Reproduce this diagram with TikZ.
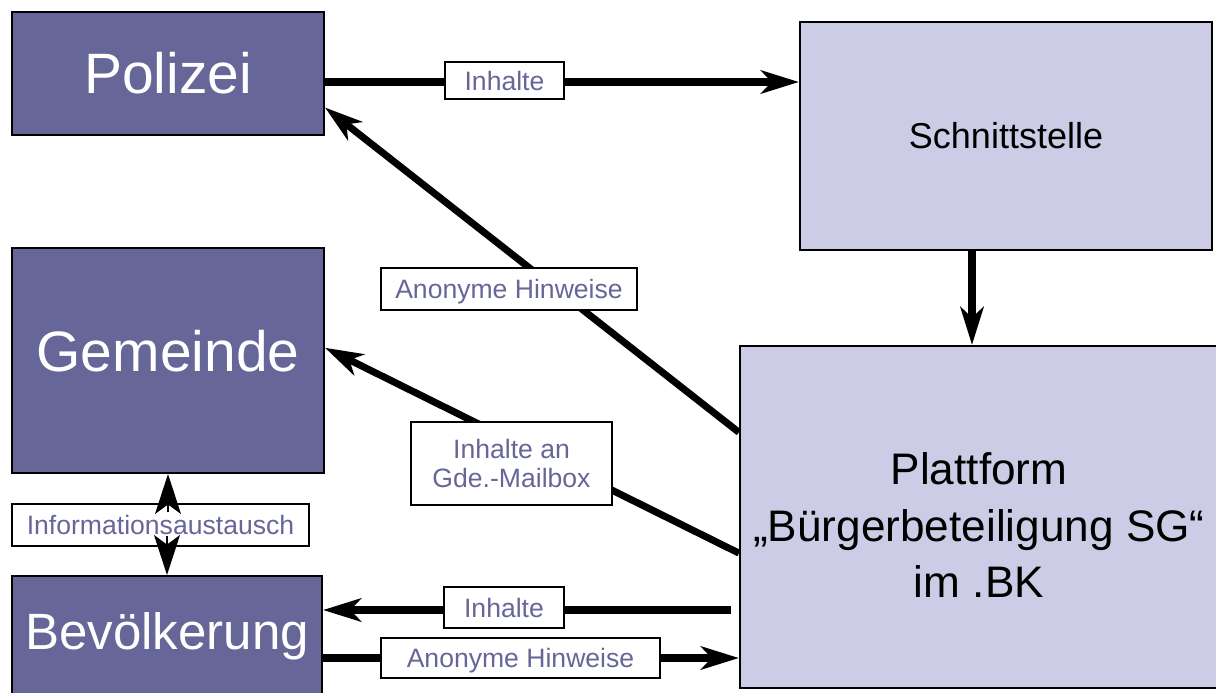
\documentclass[tikz,border=0pt]{standalone}
\usepackage{fontspec}
\setmainfont{Liberation Sans}
\usetikzlibrary{arrows.meta, calc}
\definecolor{darkbox}{RGB}{102,102,153}
\definecolor{lightbox}{RGB}{204,204,230}

\begin{document}
\begin{tikzpicture}[x=0.025cm, y=-0.025cm,
    bigbox/.style={draw=black, line width=1.4pt, rectangle, inner sep=0pt},
    darkfill/.style={bigbox, fill=darkbox, text=white},
    lightfill/.style={bigbox, fill=lightbox, text=black},
    tagbox/.style={draw=black, line width=1.4pt, fill=white, text=darkbox, inner sep=0pt,
      text depth=0pt, align=center, font=\fontsize{18.9pt}{20.6pt}\selectfont},
    conn/.style={line width=5pt, -{Stealth[length=0.95cm, width=0.58cm, inset=0.27cm]}},
    tiponly/.style={line width=1pt, -{Stealth[length=1cm, width=0.65cm, inset=0.24cm]}}]
  \useasboundingbox (0,0) rectangle (1216,692);
  \clip (0,0) rectangle (1216,692);

  \node[darkfill, minimum width=7.8cm, minimum height=3.075cm,
    font=\fontsize{40.5pt}{48pt}\selectfont] (polizei) at (168,73.5) {Polizei};
  \node[darkfill, minimum width=7.8cm, minimum height=5.625cm, text depth=0.5cm,
    font=\fontsize{40.5pt}{48pt}\selectfont] (gemeinde) at (168,360.5) {Gemeinde};
  \node[darkfill, minimum width=7.75cm, minimum height=3cm,
    font=\fontsize{36.3pt}{44pt}\selectfont] (bevoelkerung) at (167,636) {Bevölkerung};
  \node[lightfill, minimum width=10.3cm, minimum height=5.7cm,
    font=\fontsize{25.6pt}{30pt}\selectfont] (schnitt) at (1006,136) {Schnittstelle};
  \node[lightfill, minimum width=11.95cm, minimum height=8.55cm,
    label={[align=center, yshift=-0.2cm, font=\fontsize{31.4pt}{40.5pt}\selectfont]center:{Plattform\\„Bürgerbeteiligung SG“\\im .BK}}]
    (plattform) at (979,517) {};

  \draw[conn] ($(polizei.east)+(0,8.5)$) -- ($(polizei.east -| schnitt.west)+(0,8.5)$);
  \draw[conn] ($(schnitt.south)+(-34,0)$) -- ($(schnitt.south |- plattform.north)+(-34,0)$);
  \draw[conn] ($(plattform.north west)!0.254!(plattform.south west)$) -- ($(polizei.north east)!0.772!(polizei.south east)$);
  \draw[conn] ($(plattform.north west)!0.605!(plattform.south west)$) -- ($(gemeinde.north east)!0.444!(gemeinde.south east)$);
  \draw[conn, shorten <=0.2cm] ($(plattform.west)+(0,93)$) -- ($(plattform.west -| bevoelkerung.east)+(0,93)$);
  \draw[conn] ($(bevoelkerung.east)+(0,22)$) -- ($(bevoelkerung.east -| plattform.west)+(0,22)$);

  \node[tagbox, minimum width=2.975cm, minimum height=0.925cm] (tagInhaltOben) at (504.5,80.5) {Inhalte};
  \node[tagbox, minimum width=6.4cm, minimum height=1.05cm] (tagAnonymOben) at (509,289) {Anonyme Hinweise};
  \node[tagbox, minimum width=5.025cm, minimum height=2.075cm] (tagMailbox) at (511.5,463.5) {Inhalte an\\Gde.-Mailbox};
  \node[tagbox, minimum width=7.425cm, minimum height=1.05cm] (tagInfo) at (160.5,525) {Informationsaustausch};
  \node[tagbox, minimum width=3cm, minimum height=1.025cm] (tagInhaltUnten) at (504,607.5) {Inhalte};
  \node[tagbox, minimum width=6.975cm, minimum height=1cm] (tagAnonymUnten) at (520.5,658) {Anonyme Hinweise};

  \draw[tiponly] ($(gemeinde.south |- tagInfo.north)+(0,9)$) -- (gemeinde.south);
  \draw[tiponly] ($(bevoelkerung.north |- tagInfo.south)+(0,-11)$) -- (bevoelkerung.north);
\end{tikzpicture}
\end{document}
